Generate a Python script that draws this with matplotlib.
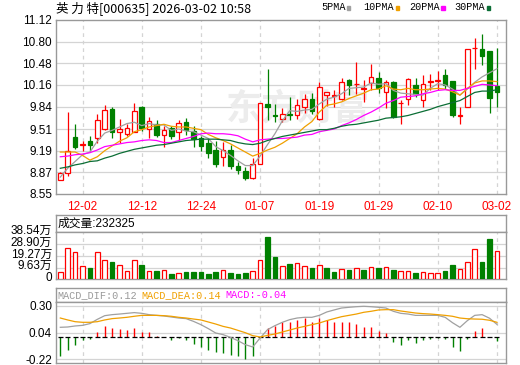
import matplotlib
matplotlib.use("Agg")
import matplotlib.pyplot as plt
import matplotlib.transforms as mtransforms
from matplotlib.patches import Rectangle
import numpy as np

W, H = 520, 365

# ---- data ----
dates = ['11-27', '11-28', '12-01', '12-02', '12-03', '12-04', '12-05', '12-08', '12-09', '12-10',
         '12-11', '12-12', '12-15', '12-16', '12-17', '12-18', '12-19', '12-22', '12-23', '12-24',
         '12-25', '12-26', '12-29', '12-30', '12-31', '01-05', '01-06', '01-07', '01-08', '01-09',
         '01-12', '01-13', '01-14', '01-15', '01-16', '01-19', '01-20', '01-21', '01-22', '01-23',
         '01-26', '01-27', '01-28', '01-29', '01-30', '02-02', '02-03', '02-04', '02-05', '02-06',
         '02-09', '02-10', '02-11', '02-12', '02-13', '02-24', '02-25', '02-26', '02-27', '03-02']
opens = [8.76, 8.86, 9.39, 9.27, 9.33, 9.37, 9.51, 9.81, 9.46, 9.43,
         9.47, 9.83, 9.51, 9.59, 9.42, 9.53, 9.46, 9.61, 9.48, 9.37,
         9.31, 9.20, 9.10, 9.20, 8.97, 8.89, 8.78, 9.00, 9.88, 9.71,
         9.66, 9.73, 9.71, 9.84, 9.95, 9.66, 10.01, 10.00, 9.95, 10.24,
         10.17, 10.10, 10.19, 10.26, 10.06, 10.21, 9.89, 9.96, 10.16, 9.94,
         10.21, 10.22, 10.31, 10.22, 9.70, 9.84, 10.70, 10.69, 10.66, 10.14]
highs = [8.88, 9.76, 9.58, 9.33, 9.40, 9.73, 9.87, 9.83, 9.66, 9.59,
         9.89, 9.85, 9.69, 9.64, 9.55, 9.55, 9.64, 9.67, 9.55, 9.41,
         9.37, 9.34, 9.32, 9.27, 9.03, 8.95, 9.08, 9.90, 10.40, 9.88,
         9.82, 9.98, 9.96, 10.03, 10.04, 10.21, 10.06, 10.09, 10.27, 10.25,
         10.50, 10.23, 10.47, 10.35, 10.24, 10.22, 9.94, 10.27, 10.26, 10.31,
         10.32, 10.36, 10.40, 10.22, 9.83, 10.69, 10.86, 10.92, 10.66, 10.70]
lows = [8.75, 8.81, 9.21, 9.19, 9.19, 9.31, 9.50, 9.37, 9.30, 9.40,
        9.46, 9.48, 9.37, 9.39, 9.25, 9.36, 9.35, 9.42, 9.25, 9.18,
        9.08, 8.95, 8.97, 8.92, 8.85, 8.75, 8.77, 9.00, 9.65, 9.62,
        9.62, 9.64, 9.66, 9.75, 9.73, 9.64, 9.85, 9.83, 9.94, 10.01,
        10.03, 9.91, 10.09, 10.04, 9.82, 9.67, 9.59, 9.87, 9.98, 9.83,
        10.09, 10.09, 10.10, 9.69, 9.59, 9.84, 10.40, 10.46, 9.75, 9.83]
closes = [8.86, 9.19, 9.24, 9.29, 9.27, 9.65, 9.79, 9.47, 9.51, 9.53,
          9.77, 9.52, 9.63, 9.42, 9.50, 9.40, 9.60, 9.49, 9.36, 9.26,
          9.15, 9.00, 9.20, 8.97, 8.90, 8.78, 9.00, 9.90, 9.84, 9.70,
          9.73, 9.71, 9.86, 9.95, 9.77, 10.13, 10.05, 10.01, 10.21, 10.16,
          10.18, 10.11, 10.28, 10.12, 10.21, 9.69, 9.90, 10.25, 10.03, 10.17,
          10.22, 10.23, 10.16, 9.71, 9.72, 10.69, 10.71, 10.59, 9.97, 10.05]
# volume in 万
volumes = [6.01, 25.42, 22.14, 10.66, 9.29, 22.14, 15.58, 14.21, 11.48, 6.56,
           15.58, 11.75, 6.56, 6.56, 7.38, 4.37, 5.19, 6.01, 6.01, 6.01,
           4.37, 6.01, 7.38, 5.19, 4.37, 5.19, 6.56, 15.58, 34.70, 18.31,
           10.66, 12.57, 13.12, 10.66, 9.29, 11.48, 9.29, 6.01, 8.20, 7.65,
           9.02, 7.65, 9.84, 9.29, 9.84, 7.65, 6.56, 6.56, 5.19, 5.74,
           5.19, 5.19, 6.83, 11.75, 8.47, 14.21, 24.60, 14.21, 33.07, 23.23]
ma5 = [8.80, 8.93, 9.03, 9.13, 9.17, 9.33, 9.45, 9.49, 9.54, 9.59,
       9.61, 9.56, 9.59, 9.57, 9.57, 9.49, 9.51, 9.48, 9.47, 9.42,
       9.37, 9.25, 9.19, 9.12, 9.04, 8.97, 8.97, 9.11, 9.28, 9.44,
       9.63, 9.78, 9.77, 9.79, 9.80, 9.88, 9.95, 9.98, 10.03, 10.11,
       10.12, 10.13, 10.19, 10.17, 10.18, 10.08, 10.04, 10.03, 10.02, 10.01,
       10.11, 10.18, 10.16, 10.10, 10.01, 10.10, 10.20, 10.28, 10.34, 10.40]
ma10 = [9.17, 9.17, 9.17, 9.12, 9.05, 9.10, 9.19, 9.26, 9.33, 9.38,
        9.47, 9.50, 9.54, 9.56, 9.58, 9.55, 9.54, 9.54, 9.52, 9.50,
        9.43, 9.38, 9.34, 9.29, 9.23, 9.17, 9.11, 9.15, 9.20, 9.24,
        9.30, 9.37, 9.44, 9.54, 9.62, 9.76, 9.86, 9.88, 9.91, 9.96,
        10.00, 10.04, 10.09, 10.10, 10.15, 10.10, 10.09, 10.11, 10.09, 10.09,
        10.10, 10.11, 10.10, 10.06, 10.01, 10.11, 10.19, 10.22, 10.22, 10.21]
ma20 = [9.10, 9.11, 9.13, 9.14, 9.16, 9.20, 9.25, 9.27, 9.29, 9.31,
        9.32, 9.34, 9.35, 9.34, 9.31, 9.31, 9.34, 9.37, 9.40, 9.44,
        9.45, 9.44, 9.44, 9.43, 9.41, 9.36, 9.32, 9.35, 9.36, 9.37,
        9.37, 9.38, 9.39, 9.42, 9.43, 9.47, 9.49, 9.51, 9.56, 9.60,
        9.65, 9.71, 9.76, 9.82, 9.89, 9.93, 9.98, 9.99, 10.00, 10.03,
        10.05, 10.08, 10.09, 10.08, 10.08, 10.11, 10.14, 10.17, 10.16, 10.15]
ma30 = [8.93, 8.95, 8.98, 9.00, 9.03, 9.04, 9.08, 9.11, 9.15, 9.18,
        9.21, 9.23, 9.25, 9.27, 9.28, 9.30, 9.32, 9.34, 9.35, 9.36,
        9.36, 9.36, 9.35, 9.34, 9.31, 9.29, 9.28, 9.30, 9.34, 9.37,
        9.40, 9.42, 9.44, 9.46, 9.48, 9.50, 9.50, 9.52, 9.55, 9.57,
        9.58, 9.60, 9.62, 9.64, 9.67, 9.68, 9.69, 9.71, 9.74, 9.77,
        9.80, 9.84, 9.87, 9.90, 9.93, 9.99, 10.05, 10.07, 10.07, 10.09]
dif = [0.091, 0.094, 0.104, 0.110, 0.127, 0.169, 0.205, 0.215, 0.221, 0.228,
       0.235, 0.228, 0.215, 0.208, 0.202, 0.192, 0.182, 0.176, 0.149, 0.117,
       0.078, 0.035, 0.019, -0.008, -0.040, -0.079, -0.102, -0.014, 0.068, 0.107,
       0.140, 0.166, 0.182, 0.189, 0.189, 0.208, 0.241, 0.261, 0.280, 0.287,
       0.293, 0.297, 0.293, 0.287, 0.280, 0.248, 0.228, 0.221, 0.208, 0.208,
       0.208, 0.208, 0.189, 0.136, 0.091, 0.156, 0.208, 0.215, 0.180, 0.120]
dea = [0.182, 0.163, 0.146, 0.140, 0.140, 0.146, 0.163, 0.176, 0.182, 0.189,
       0.199, 0.208, 0.208, 0.208, 0.205, 0.199, 0.189, 0.182, 0.172, 0.163,
       0.143, 0.123, 0.100, 0.084, 0.061, 0.038, 0.009, -0.004, 0.012, 0.025,
       0.045, 0.064, 0.084, 0.100, 0.117, 0.133, 0.156, 0.176, 0.195, 0.208,
       0.221, 0.238, 0.248, 0.261, 0.264, 0.264, 0.251, 0.241, 0.231, 0.225,
       0.221, 0.215, 0.208, 0.199, 0.182, 0.175, 0.172, 0.170, 0.160, 0.140]
macd = [-0.195, -0.130, -0.087, -0.037, -0.021, 0.045, 0.100, 0.084, 0.074, 0.068,
        0.087, 0.045, 0.042, 0.002, -0.008, -0.037, -0.014, -0.037, -0.070, -0.102,
        -0.135, -0.151, -0.161, -0.184, -0.194, -0.217, -0.187, -0.005, 0.084, 0.103,
        0.143, 0.146, 0.166, 0.182, 0.140, 0.182, 0.159, 0.143, 0.143, 0.143,
        0.123, 0.094, 0.094, 0.058, 0.035, -0.053, -0.079, -0.034, -0.063, -0.037,
        -0.027, -0.014, -0.024, -0.105, -0.138, -0.021, 0.058, 0.084, -0.005, -0.040]

price_ticks = [8.55, 8.87, 9.19, 9.51, 9.84, 10.16, 10.48, 10.80, 11.12]
vol_ticks = [0, 9.63, 19.27, 28.90, 38.54]
macd_ticks = [-0.22, 0.04, 0.30]
date_ticks = ['12-02', '12-12', '12-24', '01-07', '01-19', '01-29', '02-10', '03-02']

RED = '#ff0000'
GREEN = '#008000'
MA_COLORS = ['#a0a0a0', '#f0a000', '#ff00ff', '#0b6e35']
BORDER = '#999999'
GRID = '#d4d4d4'

plt.rcParams['font.family'] = ['Liberation Sans', 'Noto Sans CJK SC']
MONO = ['Liberation Mono', 'Noto Sans CJK SC']


def px_axes(fig, x0, y0, x1, y1):
    """axes from pixel box (top-left origin)"""
    return fig.add_axes([x0 / W, 1 - y1 / H, (x1 - x0) / W, (y1 - y0) / H])


def style_box(ax):
    for sp in ax.spines.values():
        sp.set_color(BORDER)
        sp.set_linewidth(1.0)
    ax.tick_params(length=0, pad=2.5, labelsize=8.5)


def main():
    n = len(dates)
    x = np.arange(n)
    xt = [dates.index(d) for d in date_ticks]
    xlim = (-0.65, 60.16)
    bw = 0.6

    fig = plt.figure(figsize=(W / 100, H / 100), dpi=100)

    # ---------------- price panel ----------------
    ax = px_axes(fig, 55.5, 20, 505.5, 194)
    style_box(ax)
    ax.set_xlim(*xlim)
    ax.set_ylim(8.55, 11.12)
    ax.set_yticks(price_ticks)
    ax.set_yticklabels([f"{v:.2f}" for v in price_ticks])
    ax.set_xticks(xt)
    ax.set_xticklabels(date_ticks, color=RED, fontsize=8.5)
    ax.tick_params(axis='x', pad=5)
    for v in price_ticks[1:-1]:
        ax.axhline(v, color=GRID, lw=0.9, zorder=0)
    for t in xt:
        ax.axvline(t, color=GRID, lw=0.9, ls=(0, (3, 3)), zorder=0)

    # faint site watermark behind the candles
    ax.text(0.54, 0.49, '东方财富', transform=ax.transAxes, fontsize=26,
            fontweight='bold', color='#ececec', ha='center', va='center',
            family=['Noto Sans CJK SC'], zorder=1)

    for i in range(n):
        up = closes[i] >= opens[i]
        col = RED if up else GREEN
        ax.vlines(x[i], lows[i], highs[i], color=col, lw=0.9, zorder=3)
        lo = min(opens[i], closes[i])
        h = max(abs(closes[i] - opens[i]), 0.006)
        ax.add_patch(Rectangle((x[i] - bw / 2, lo), bw, h,
                               facecolor='white' if up else col,
                               edgecolor=col, lw=0.9, zorder=4))

    for ma, c in zip((ma5, ma10, ma20, ma30), MA_COLORS):
        ax.plot(x, ma, color=c, lw=0.9, zorder=5)

    # title + legend
    fig.text(56 / W, 1 - 8 / H, '英 力 特[000635] 2026-03-02 10:58',
             fontsize=9, ha='left', va='center', family=['Noto Sans CJK SC'])
    leg = [('5PMA', 321.5, 346.5), ('10PMA', 363, 395.5),
           ('20PMA', 409, 441), ('30PMA', 454.5, 486.5)]
    for (lab, tx, mx), c in zip(leg, MA_COLORS):
        fig.text(tx / W, 1 - 7.5 / H, lab, fontsize=7.3, ha='left',
                 va='center', family=MONO)
        fig.patches.append(Rectangle((mx / W, 1 - 9.5 / H), 3.5 / W, 3.2 / H,
                                     transform=fig.transFigure, color=c))

    # ---------------- volume panel ----------------
    axh = px_axes(fig, 55.5, 215, 505.5, 232.3)
    style_box(axh)
    axh.set_xticks([])
    axh.set_yticks([])
    axh.text(2 / 450, 0.5, '成交量:232325', transform=axh.transAxes,
             fontsize=8.5, ha='left', va='center')

    axv = px_axes(fig, 55.5, 232.3, 505.5, 279.3)
    style_box(axv)
    axv.set_xlim(*xlim)
    axv.set_ylim(0, 38.54)
    axv.set_xticks(xt)
    axv.set_xticklabels([])
    axv.set_yticks(vol_ticks)
    axv.set_yticklabels(['0'] + [f"{v:.2f}万" for v in vol_ticks[1:]])
    off = mtransforms.ScaledTranslation(0, 2 / 72, fig.dpi_scale_trans)
    for lab in axv.get_yticklabels():
        lab.set_transform(lab.get_transform() + off)
    for v in vol_ticks[1:-1]:
        axv.axhline(v, color=GRID, lw=0.9, zorder=0)
    for t in xt:
        axv.axvline(t, color=GRID, lw=0.9, ls=(0, (3, 3)), zorder=0)
    for i in range(n):
        up = closes[i] >= (closes[i - 1] if i > 0 else opens[i])
        col = RED if up else GREEN
        axv.bar(x[i], volumes[i], width=bw, facecolor='white' if up else col,
                edgecolor=col, lw=0.9, zorder=3)

    # ---------------- MACD panel ----------------
    axm_h = px_axes(fig, 55.5, 288.3, 505.5, 301.7)
    style_box(axm_h)
    axm_h.set_xticks([])
    axm_h.set_yticks([])
    for lab, c, tx in ((f"MACD_DIF:{dif[-1]:.2f}", '#999999', 57),
                       (f"MACD_DEA:{dea[-1]:.2f}", '#f0a000', 141.5),
                       (f"MACD:{macd[-1]:.2f}", '#ff00ff', 225)):
        fig.text(tx / W, 1 - 295 / H, lab, color=c, fontsize=7.3,
                 ha='left', va='center', family=MONO)

    axm = px_axes(fig, 55.5, 301.7, 505.5, 363.3)
    style_box(axm)
    axm.set_xlim(*xlim)
    axm.set_ylim(-0.262, 0.342)
    axm.set_xticks(xt)
    axm.set_xticklabels([])
    axm.set_yticks(macd_ticks)
    axm.set_yticklabels([f"{v:.2f}" for v in macd_ticks])
    for v in macd_ticks:
        axm.axhline(v, color=GRID, lw=0.9, zorder=0)
    for t in xt:
        axm.axvline(t, color=GRID, lw=0.9, ls=(0, (3, 3)), zorder=0)
    hist = np.array(macd)
    cols = [RED if v > 0 else GREEN for v in hist]
    axm.vlines(x, 0, hist, colors=cols, lw=1.0, zorder=3)
    axm.hlines(np.zeros(n), x - 0.33, x + 0.33, colors='black', lw=0.9, zorder=4)
    axm.plot(x, dif, color='#a0a0a0', lw=0.9, zorder=5)
    axm.plot(x, dea, color='#f0a000', lw=0.9, zorder=5)

    fig.savefig("out.png", dpi=100)


if __name__ == "__main__":
    main()
